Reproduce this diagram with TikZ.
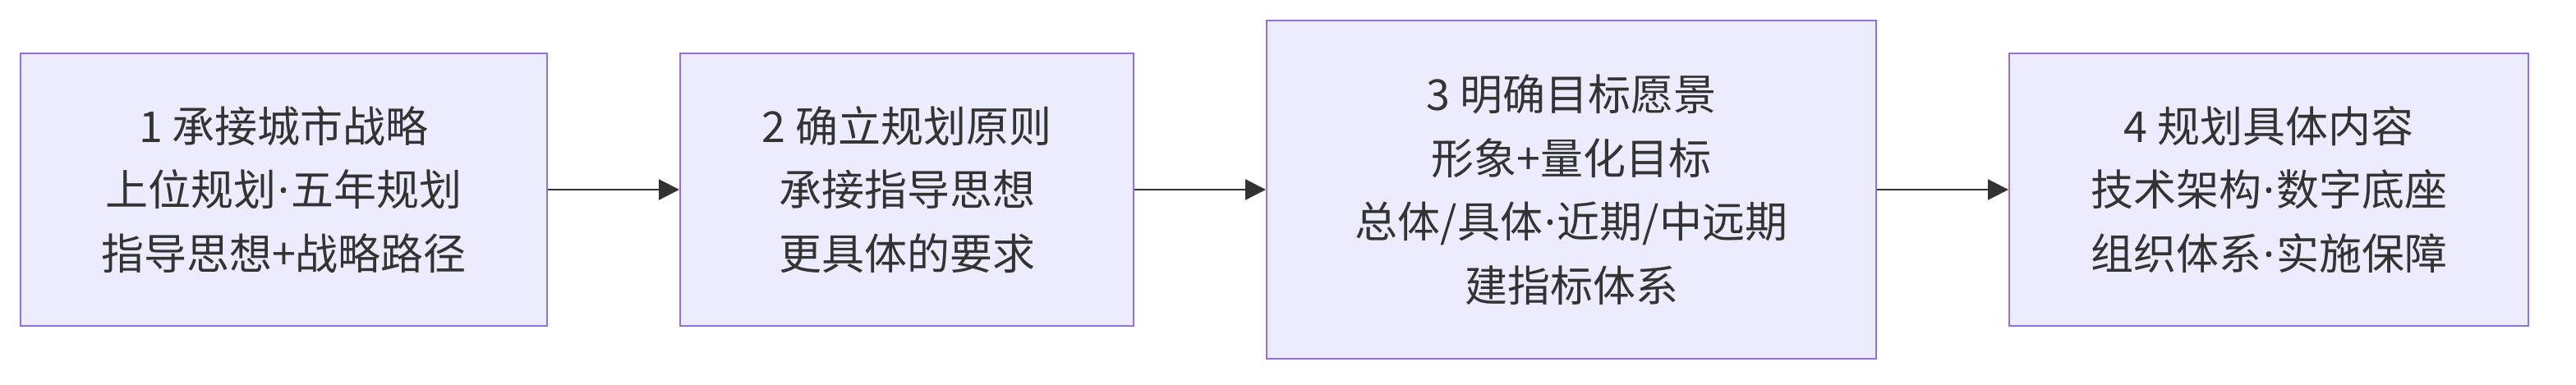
\documentclass[tikz,border=0pt]{standalone}
\usepackage{fontspec}
\setmainfont{Noto Sans CJK SC}
\newfontfamily\latinfont{Noto Sans}
\usepackage{xcolor}
\usepackage{tikz}
\usetikzlibrary{arrows.meta,positioning}
\definecolor{boxfill}{HTML}{ECECFF}
\definecolor{boxline}{HTML}{9370DB}
\definecolor{ink}{HTML}{333333}
\newcommand{\mdot}{{\latinfont\kern1pt·\kern1pt}}

\begin{document}
\begin{tikzpicture}[node distance=80pt, every node/.style={font={\fontsize{26pt}{38.75pt}\selectfont}, text=ink}, stage/.style={draw=boxline,fill=boxfill,line width=1pt,align=center,minimum height=166pt}, arr/.style={-{Triangle[length=12.5pt,width=12.5pt]},draw=ink,line width=1.1pt}]
\useasboundingbox (0,0) rectangle (1568pt,234pt);
\node[stage,minimum width=320.5pt] (s1) at (172.75pt,118.5pt) {1 承接城市战略\\上位规划\mdot 五年规划\\指导思想+战略路径};
\node[stage,minimum width=276pt,right=of s1] (s2) {2 确立规划原则\\承接指导思想\\更具体的要求};
\node[stage,minimum width=371pt,minimum height=206pt,right=of s2] (s3) {3 明确目标愿景\\形象+量化目标\\总体/具体\mdot 近期/中远期\\建指标体系};
\node[stage,minimum width=316pt,right=of s3] (s4) {4 规划具体内容\\技术架构\mdot 数字底座\\组织体系\mdot 实施保障};
\draw[arr] (s1)--(s2); \draw[arr] (s2)--(s3); \draw[arr] (s3)--(s4);
\end{tikzpicture}
\end{document}
